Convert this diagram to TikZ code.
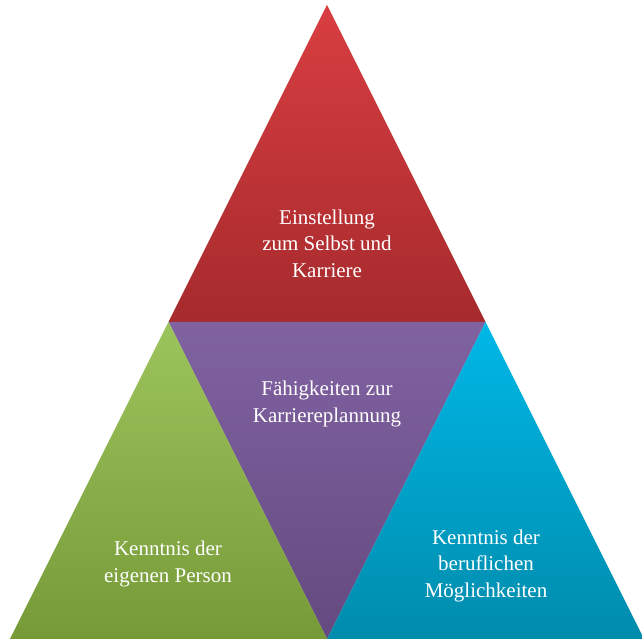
\documentclass[tikz,border=0pt]{standalone}
\usepackage{fontspec}
\setmainfont{Liberation Serif}
\definecolor{redT}{RGB}{216,62,65}
\definecolor{redB}{RGB}{166,42,45}
\definecolor{purT}{RGB}{128,98,161}
\definecolor{purB}{RGB}{100,74,128}
\definecolor{grnT}{RGB}{156,196,92}
\definecolor{grnB}{RGB}{118,154,56}
\definecolor{bluT}{RGB}{0,183,231}
\definecolor{bluB}{RGB}{0,140,172}
\tikzset{
  lbl/.style={text=white, align=center, font=\fontsize{21}{26.5}\selectfont, inner sep=0pt}
}
\begin{document}
\begin{tikzpicture}[x=1pt,y=1pt]
\useasboundingbox (0,0) rectangle (642,639);
\coordinate (A) at (327,634);
\coordinate (L) at (168.5,317);
\coordinate (R) at (485.5,317);
\coordinate (BL) at (10,0);
\coordinate (BM) at (327,0);
\coordinate (BR) at (644,0);
\begin{scope}
\clip (0,0) rectangle (642,639);
\shade[top color=redT, bottom color=redB] (A) -- (L) -- (R) -- cycle;
\shade[top color=purT, bottom color=purB] (L) -- (R) -- (BM) -- cycle;
\shade[top color=grnT, bottom color=grnB] (L) -- (BL) -- (BM) -- cycle;
\shade[top color=bluT, bottom color=bluB] (R) -- (BM) -- (BR) -- cycle;
\end{scope}
\node[lbl] (t1) at (327,395.5) {Einstellung\\zum Selbst und\\Karriere};
\node[lbl] (t2) at (327,235) {Fähigkeiten zur\\Karriereplannung};
\node[lbl] (t3) at (168,75) {Kenntnis der\\eigenen Person};
\node[lbl] (t4) at (486,73.5) {Kenntnis der\\beruflichen\\Möglichkeiten};
\end{tikzpicture}
\end{document}
